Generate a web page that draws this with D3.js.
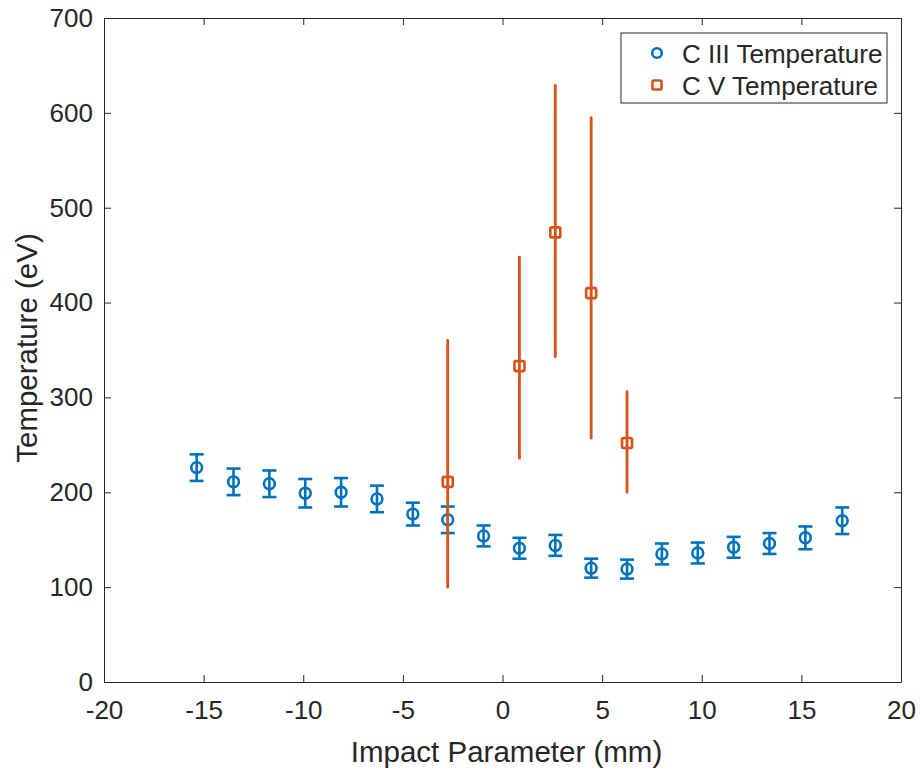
<!DOCTYPE html>
<html>
<head>
<meta charset="utf-8">
<script src="https://d3js.org/d3.v7.min.js"></script>
<style>
  body { margin: 0; background: #fff; }
  svg text { font-family: "Liberation Sans", Arial, sans-serif; fill: #262626; }
</style>
</head>
<body>
<svg id="chart" width="920" height="768"></svg>
<script>
    // C III series
    var xC3 = [-15.35, -13.5, -11.7, -9.9, -8.1, -6.3, -4.5, -2.75, -0.95, 0.85, 2.65, 4.45, 6.25, 8.0, 9.8, 11.6, 13.4, 15.2, 17.05];
    var tC3 = [226, 211, 209, 199, 200, 193, 177, 171, 154, 141, 144, 120, 119, 135, 136, 142, 146, 152, 170];
    var errC3 = [14, 14, 14, 15, 15, 14, 12, 14, 11, 11, 11, 10, 10, 11, 11, 11, 11, 12, 14];

    // C V series (asymmetric bars)
    var xC5 = [-2.75, 0.85, 2.65, 4.45, 6.25];
    var tC5 = [211, 333, 474, 410, 252];
    var loC5 = [100, 236, 343, 257, 200];
    var hiC5 = [360, 448, 629, 595, 306];

    var xTicks = [-20, -15, -10, -5, 0, 5, 10, 15, 20];
    var yTicks = [0, 100, 200, 300, 400, 500, 600, 700];
    var legendLabels = ["C III Temperature", "C V Temperature"];

    var blue = "#0072BD", orange = "#D95319", axisColor = "#262626";

    var svg = d3.select("#chart");
    var padL = 104, padR = 901, padT = 18, padB = 682;

    var x = d3.scaleLinear().domain([-20, 20]).range([padL, padR]);
    var y = d3.scaleLinear().domain([0, 700]).range([padB, padT]);
    var plain = function(d) { return String(d); };

    function styleAxis(g) {
      g.selectAll("path, line").attr("stroke", axisColor).attr("stroke-width", 1);
      g.selectAll("text").attr("fill", axisColor).style("font-size", "26px")
        .style("font-family", '"Liberation Sans", Arial, sans-serif');
    }

    svg.append("g").attr("transform", "translate(0," + padB + ")")
      .call(d3.axisBottom(x).tickValues(xTicks).tickFormat(plain).tickSize(-7).tickSizeOuter(0).tickPadding(19))
      .call(styleAxis);
    svg.append("g").attr("transform", "translate(0," + padT + ")")
      .call(d3.axisTop(x).tickValues(xTicks).tickSize(-7).tickSizeOuter(0).tickFormat(""))
      .call(styleAxis);
    svg.append("g").attr("transform", "translate(" + padL + ",0)")
      .call(d3.axisLeft(y).tickValues(yTicks).tickFormat(plain).tickSize(-7).tickSizeOuter(0).tickPadding(11))
      .call(styleAxis);
    svg.append("g").attr("transform", "translate(" + padR + ",0)")
      .call(d3.axisRight(y).tickValues(yTicks).tickSize(-7).tickSizeOuter(0).tickFormat(""))
      .call(styleAxis);

    // axis labels
    svg.append("text")
      .attr("x", (padL + padR) / 2 + 4).attr("y", 762)
      .attr("text-anchor", "middle").style("font-size", "29.5px")
      .text("Impact Parameter (mm)");
    svg.append("text")
      .attr("transform", "translate(37," + ((padT + padB) / 2 - 2) + ") rotate(-90)")
      .attr("text-anchor", "middle").style("font-size", "29.5px")
      .text("Temperature (eV)");

    // C III error bars + circles
    var c3 = svg.append("g");
    xC3.forEach(function(xv, i) {
      var cx = x(xv), lo = y(tC3[i] - errC3[i]), hi = y(tC3[i] + errC3[i]);
      c3.append("line").attr("x1", cx).attr("x2", cx).attr("y1", lo).attr("y2", hi)
        .attr("stroke", blue).attr("stroke-width", 2.6);
      [lo, hi].forEach(function(yy) {
        c3.append("line").attr("x1", cx - 7).attr("x2", cx + 7).attr("y1", yy).attr("y2", yy)
          .attr("stroke", blue).attr("stroke-width", 2.6);
      });
      c3.append("circle").attr("cx", cx).attr("cy", y(tC3[i])).attr("r", 5.4)
        .attr("fill", "none").attr("stroke", blue).attr("stroke-width", 2.6);
    });

    // C V error bars + squares
    var c5 = svg.append("g");
    xC5.forEach(function(xv, i) {
      var cx = x(xv);
      c5.append("line").attr("x1", cx).attr("x2", cx).attr("y1", y(loC5[i])).attr("y2", y(hiC5[i]))
        .attr("stroke", orange).attr("stroke-width", 2.8).attr("stroke-linecap", "round");
      c5.append("rect").attr("x", cx - 5).attr("y", y(tC5[i]) - 5).attr("width", 10).attr("height", 10)
        .attr("rx", 1.5).attr("fill", "none").attr("stroke", orange).attr("stroke-width", 2.6);
    });

    // legend
    var lg = svg.append("g");
    lg.append("rect").attr("x", 621).attr("y", 33).attr("width", 266).attr("height", 70)
      .attr("fill", "#fff").attr("stroke", axisColor).attr("stroke-width", 1);
    lg.append("circle").attr("cx", 657).attr("cy", 53).attr("r", 4.8)
      .attr("fill", "none").attr("stroke", blue).attr("stroke-width", 2.6);
    lg.append("rect").attr("x", 652.5).attr("y", 80.5).attr("width", 9).attr("height", 9)
      .attr("rx", 1.2).attr("fill", "none").attr("stroke", orange).attr("stroke-width", 2.6);
    legendLabels.forEach(function(t, i) {
      lg.append("text").attr("x", 682).attr("y", 63 + i * 32).style("font-size", "26px").text(t);
    });
</script>
</body>
</html>
